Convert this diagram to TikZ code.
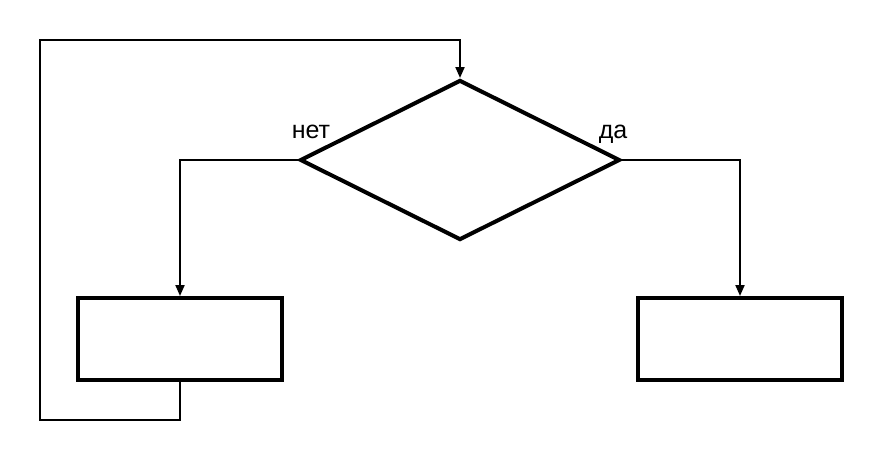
\documentclass[tikz,border=0pt]{standalone}
\usepackage{fontspec}
\setmainfont{Liberation Sans}
\usetikzlibrary{shapes.geometric,arrows.meta}
\begin{document}
\begin{tikzpicture}[x=1pt,y=-1pt,
  every node/.style={font=\fontsize{25}{29}\selectfont},
  shapebox/.style={draw=black,line width=4pt,fill=white,text=white,inner sep=0pt},
  decision/.style={shapebox,diamond,shape aspect=2,minimum width=320pt,minimum height=160pt},
  actbox/.style={shapebox,rectangle,minimum width=204pt,minimum height=82pt,align=center},
  conn/.style={draw=black,line width=2pt},
  arr/.style={conn,-{Triangle[length=11pt,width=9pt]}},
  lbl/.style={anchor=base,inner sep=0pt,text=black}]
\useasboundingbox[fill=white] (0,0) rectangle (880,460);
\node[decision] (q) at (460,160) {Вопрос дружбы?};
\node[actbox] (err) at (180,339) {Ошибка\\Исправить};
\node[actbox] (ok) at (740,339) {Подарок};
\coordinate (c1) at (40,420);
\coordinate (c2) at (40,40);
\draw[arr] (q.west) -| (err.north);
\draw[arr] (q.east) -| (ok.north);
\draw[arr] (err.south) |- (c1) -- (c2) -| (q.north);
\node[lbl] (no) at (311,138) {нет};
\node[lbl] (yes) at (613,138) {да};
\end{tikzpicture}
\end{document}
